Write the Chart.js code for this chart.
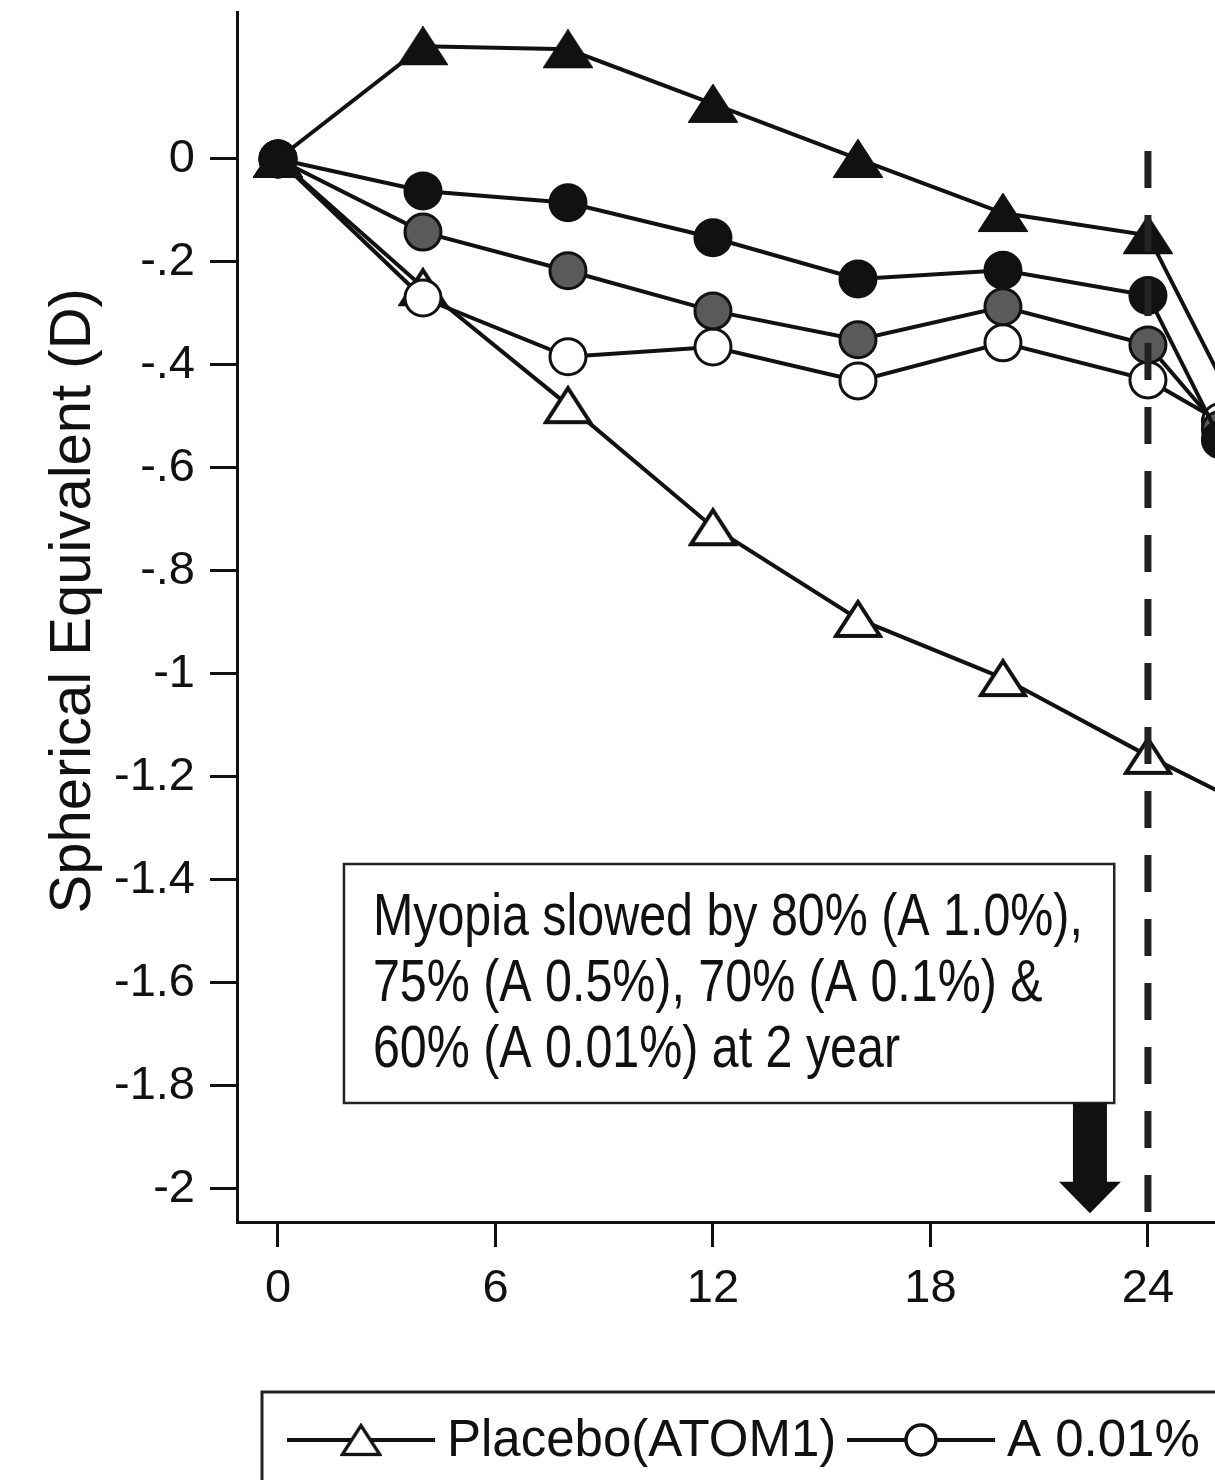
<!DOCTYPE html>
<html>
<head>
<meta charset="utf-8">
<title>Spherical equivalent by month</title>
<script src="https://cdn.jsdelivr.net/npm/chart.js@4.4.1/dist/chart.umd.min.js"></script>
<style>
  html, body { margin: 0; padding: 0; background: #fff; overflow: hidden; }
  #wrap { width: 1215px; height: 1480px; }
</style>
</head>
<body>
<div id="wrap"><canvas id="seChart" width="1215" height="1480"></canvas></div>
<script>
// follow-up visits (months)
const monthsAtom1 = [0, 4, 8, 12, 16, 20, 24, 28];
const monthsAtom2 = [0, 4, 8, 12, 16, 20, 24, 26];

// mean change in spherical equivalent (D)
const placeboAtom1  = [0, -0.249, -0.478, -0.715, -0.893, -1.008, -1.159, -1.30];
const atropine1     = [0, 0.219, 0.213, 0.107, 0.0, -0.105, -0.148, -0.70];
const atropine05    = [0, -0.062, -0.085, -0.153, -0.233, -0.216, -0.265, -0.545];
const atropine01    = [0, -0.142, -0.217, -0.295, -0.351, -0.287, -0.361, -0.525];
const atropine001   = [0, -0.270, -0.384, -0.365, -0.431, -0.357, -0.429, -0.51];

const xTicks = [0, 6, 12, 18, 24];
const yTicks = [0, -0.2, -0.4, -0.6, -0.8, -1, -1.2, -1.4, -1.6, -1.8, -2];
const yTickLabels = ['0', '-.2', '-.4', '-.6', '-.8', '-1', '-1.2', '-1.4', '-1.6', '-1.8', '-2'];

const noteLines = [
  'Myopia slowed by 80% (A 1.0%),',
  '75% (A 0.5%), 70% (A 0.1%) &',
  '60% (A 0.01%) at 2 year'
];

const FONT = '"Liberation Sans", Arial, sans-serif';
const INK = '#111';

const toPoints = (xs, ys) => xs.map((x, i) => ({ x, y: ys[i] }));

// marker sprites for triangle series
function makeTriangle(fill) {
  const c = document.createElement('canvas');
  c.width = 50; c.height = 40;
  const g = c.getContext('2d');
  g.beginPath();
  g.moveTo(25, 3);
  g.lineTo(47, 37);
  g.lineTo(3, 37);
  g.closePath();
  g.fillStyle = fill;
  g.fill();
  g.lineWidth = 4;
  g.lineJoin = 'miter';
  g.strokeStyle = INK;
  g.stroke();
  return c;
}
const openTriangle = makeTriangle('#fff');
const solidTriangle = makeTriangle(INK);

function series(label, xs, ys, style, fill, order) {
  return {
    label,
    data: toPoints(xs, ys),
    order,
    borderColor: INK,
    borderWidth: 4,
    tension: 0,
    pointStyle: style,
    pointRadius: 18,
    pointBorderWidth: 3,
    pointBorderColor: INK,
    pointBackgroundColor: fill
  };
}

const datasets = [
  series('Placebo(ATOM1)', monthsAtom1, placeboAtom1, openTriangle, '#fff', 5),
  series('A 0.01%', monthsAtom2, atropine001, 'circle', '#fff', 4),
  series('A 0.1%', monthsAtom2, atropine01, 'circle', '#5a5a5a', 3),
  series('A 0.5%', monthsAtom2, atropine05, 'circle', INK, 2),
  series('A 1.0%(ATOM1)', monthsAtom1, atropine1, solidTriangle, INK, 1)
];

// dashed marker at end of treatment, box note, arrow, axis title, legend
const overlays = {
  id: 'overlays',
  afterDatasetsDraw(chart) {
    const { ctx, scales: { x, y }, chartArea } = chart;
    const px = x.getPixelForValue(24);
    ctx.save();
    ctx.strokeStyle = '#222';
    ctx.lineWidth = 7;
    ctx.setLineDash([37, 27]);
    ctx.beginPath();
    ctx.moveTo(px, y.getPixelForValue(0.0155));
    ctx.lineTo(px, chartArea.bottom);
    ctx.stroke();
    ctx.restore();
  },
  afterDraw(chart) {
    const { ctx, scales: { x, y }, width, height } = chart;

    // note box
    const bx0 = x.getPixelForValue(1.82), bx1 = x.getPixelForValue(23.07);
    const by0 = y.getPixelForValue(-1.369), by1 = y.getPixelForValue(-1.833);
    ctx.save();
    ctx.fillStyle = '#fff';
    ctx.fillRect(bx0, by0, bx1 - bx0, by1 - by0);
    ctx.strokeStyle = '#222';
    ctx.lineWidth = 2.5;
    ctx.strokeRect(bx0, by0, bx1 - bx0, by1 - by0);
    ctx.fillStyle = INK;
    ctx.font = '59px ' + FONT;
    ctx.textBaseline = 'alphabetic';
    ctx.textAlign = 'left';
    noteLines.forEach((line, i) => {
      ctx.save();
      ctx.translate(bx0 + 29, by0 + 71 + i * 66);
      ctx.scale(0.82, 1);
      ctx.fillText(line, 0, 0);
      ctx.restore();
    });

    // arrow under the box
    const ax = x.getPixelForValue(22.4);
    const headTop = y.getPixelForValue(-1.986);
    const tip = y.getPixelForValue(-2.047);
    ctx.beginPath();
    ctx.moveTo(ax - 17, by1);
    ctx.lineTo(ax + 17, by1);
    ctx.lineTo(ax + 17, headTop);
    ctx.lineTo(ax + 31, headTop);
    ctx.lineTo(ax, tip);
    ctx.lineTo(ax - 31, headTop);
    ctx.lineTo(ax - 17, headTop);
    ctx.closePath();
    ctx.fillStyle = INK;
    ctx.fill();

    // y axis title
    ctx.save();
    ctx.translate(90, y.getPixelForValue(-0.858));
    ctx.rotate(-Math.PI / 2);
    ctx.textAlign = 'center';
    ctx.font = '58px ' + FONT;
    ctx.fillText('Spherical Equivalent (D)', 0, 0);
    ctx.restore();

    // legend, equal-width columns
    const lx = 262, ly = 1392, rowY = 1440, colW = 560;
    ctx.strokeStyle = '#222';
    ctx.lineWidth = 3;
    ctx.strokeRect(lx, ly, width - lx + 20, height - ly + 20);
    ctx.font = '51px ' + FONT;
    ctx.textBaseline = 'middle';
    chart.data.datasets.forEach((ds, i) => {
      const cx = lx + 25 + i * colW;
      ctx.strokeStyle = INK;
      ctx.lineWidth = 4;
      ctx.beginPath();
      ctx.moveTo(cx, rowY);
      ctx.lineTo(cx + 148, rowY);
      ctx.stroke();
      const mx = cx + 74;
      if (ds.pointStyle instanceof HTMLCanvasElement) {
        const w = ds.pointStyle.width * 0.85, h = ds.pointStyle.height * 0.85;
        ctx.drawImage(ds.pointStyle, mx - w / 2, rowY - h / 2, w, h);
      } else {
        ctx.beginPath();
        ctx.arc(mx, rowY, 15, 0, Math.PI * 2);
        ctx.fillStyle = ds.pointBackgroundColor;
        ctx.fill();
        ctx.lineWidth = 3.5;
        ctx.stroke();
      }
      ctx.fillStyle = INK;
      ctx.fillText(ds.label, cx + 160, rowY + 2);
    });
    ctx.restore();
  }
};

new Chart(document.getElementById('seChart'), {
  type: 'line',
  data: { datasets },
  options: {
    responsive: false,
    animation: false,
    layout: { autoPadding: false, padding: { top: 12, right: 0, bottom: 0, left: 0 } },
    plugins: { legend: { display: false }, tooltip: { enabled: false } },
    scales: {
      x: {
        type: 'linear',
        min: -1.131,
        max: 25.85,
        afterBuildTicks: s => { s.ticks = xTicks.map(v => ({ value: v })); },
        afterFit: s => { s.height = 258; s.paddingLeft = 0; s.paddingRight = 0; },
        border: { display: true, color: INK, width: 3 },
        grid: { drawOnChartArea: false, drawTicks: true, tickLength: 25, color: INK, lineWidth: 3 },
        ticks: {
          color: INK, font: { family: FONT, size: 47 }, padding: 14,
          maxRotation: 0, autoSkip: false, callback: v => String(v)
        }
      },
      y: {
        type: 'linear',
        min: -2.0641,
        max: 0.2854,
        afterBuildTicks: s => { s.ticks = yTicks.map(v => ({ value: v })); },
        afterFit: s => { s.width = 237; s.paddingTop = 0; s.paddingBottom = 0; },
        border: { display: true, color: INK, width: 3 },
        grid: { drawOnChartArea: false, drawTicks: true, tickLength: 27, color: INK, lineWidth: 3 },
        ticks: {
          color: INK, font: { family: FONT, size: 47 }, padding: 15,
          autoSkip: false, callback: (v, i) => yTickLabels[i]
        }
      }
    }
  },
  plugins: [overlays]
});
</script>
</body>
</html>
